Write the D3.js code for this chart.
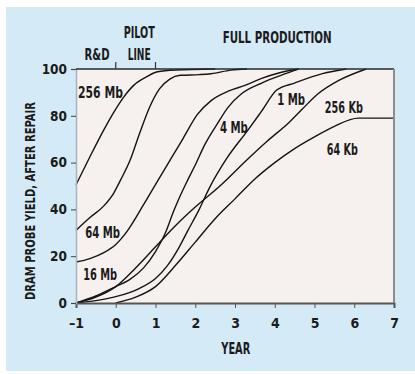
<!DOCTYPE html>
<html>
<head>
<meta charset="utf-8">
<script src="https://cdn.jsdelivr.net/npm/d3@7"></script>
<style>
  html, body { margin: 0; padding: 0; background: #fff; }
  svg text {
    font-family: "DejaVu Sans Condensed", "DejaVu Sans", sans-serif;
    font-stretch: condensed;
    font-weight: bold;
    fill: #1b1b1b;
  }
</style>
</head>
<body>
<div id="chart"></div>
<script>
// values: [year, probe yield %]
const years = [-1, 0, 1, 2, 3, 4, 5, 6, 7];
const yieldTicks = [0, 20, 40, 60, 80, 100];

const mb256 = [[-1, 50.5], [-0.65, 62.5], [-0.3, 74], [-0.05, 81.5], [0.2, 88], [0.45, 93], [0.78, 96.7], [1.05, 98.8], [1.5, 99.6], [2.5, 100]];
const mb64 = [[-1, 31], [-0.65, 36.5], [-0.3, 41.5], [-0.05, 47], [0.12, 52.5], [0.36, 61], [0.61, 73], [0.86, 84], [1.1, 91.5], [1.36, 95.7], [1.62, 97.3], [2.1, 97.6], [2.4, 98], [2.9, 99.5], [3.3, 100]];
const mb16 = [[-1, 17.5], [-0.65, 19], [-0.3, 21.5], [0, 25], [0.28, 30.5], [0.7, 42], [1.1, 53.5], [1.4, 62], [1.7, 70.5], [2.05, 80.5], [2.4, 86.5], [2.83, 90.5], [3.25, 93], [3.67, 96], [4.1, 98.3], [4.6, 100]];
const mb4 = [[-1, 0], [-0.5, 3], [0, 7], [0.35, 10], [0.7, 15], [1.0, 22], [1.25, 30], [1.45, 39], [1.6, 45], [1.78, 51.5], [2.0, 59], [2.25, 68], [2.57, 77], [2.82, 83.5], [3.17, 89.5], [3.67, 94], [4.17, 97.4], [4.6, 100]];
const mb1 = [[-1, 0], [-0.5, 1], [0, 2.7], [0.6, 6.3], [1.0, 10.5], [1.3, 16], [1.6, 24], [1.8, 30.5], [2.1, 40], [2.35, 49], [2.8, 62], [3.33, 74], [3.67, 82], [4.05, 91], [4.5, 94], [5.2, 98], [5.8, 100]];
const kb256 = [[-1, 0], [-0.5, 2.5], [0, 7], [0.5, 15], [1, 24], [1.5, 33], [2, 41], [2.62, 50], [3.29, 61], [3.8, 69], [4.38, 77.5], [4.7, 83], [5.06, 89], [5.6, 95], [6.3, 100]];
const kb64 = [[0, 0], [0.5, 2.5], [1, 7], [1.5, 16], [2, 26], [2.5, 36], [3, 44.5], [3.5, 53], [4, 60], [4.5, 66], [5, 71], [5.5, 75.5], [6.1, 79], [7, 79]];

const seriesNames = ["256 Mb", "64 Mb", "16 Mb", "4 Mb", "1 Mb", "256 Kb", "64 Kb"];
const seriesValues = [mb256, mb64, mb16, mb4, mb1, kb256, kb64];
// where each curve label sits, in data units (left edge / baseline), and its printed width
const labelSpots = [[-0.95, 87.6], [-0.77, 27.8], [-0.82, 9.8], [2.62, 72.6], [4.06, 84.6], [5.26, 81.2], [5.31, 63.2]];
const labelWidths = [45, 35, 34, 28, 28, 38, 31];

const phaseBreaks = [0, 1];

// set the dimensions and margins of the graph
const W = 415, H = 374;
const margin = { top: 69, right: 21, bottom: 71, left: 76 },
  width = W - margin.left - margin.right,
  height = H - margin.top - margin.bottom;

const svg = d3.select("#chart")
  .append("svg")
  .attr("width", W)
  .attr("height", H);

// light blue card
svg.append("rect")
  .attr("x", 6).attr("y", 7)
  .attr("width", W - 6).attr("height", 364)
  .attr("fill", "#d5eaf7");

const g = svg.append("g")
  .attr("transform", `translate(${margin.left}, ${margin.top})`);

const x = d3.scaleLinear().domain([-1, 7]).range([0, width]);
const y = d3.scaleLinear().domain([0, 100]).range([height, 0]);

g.append("rect")
  .attr("width", width).attr("height", height)
  .attr("fill", "#f6f1ee");

// curves
const line = d3.line()
  .x(d => x(d[0]))
  .y(d => y(d[1]))
  .curve(d3.curveMonotoneX);

g.selectAll(".curve")
  .data(seriesValues)
  .join("path")
  .attr("class", "curve")
  .attr("d", line)
  .attr("fill", "none")
  .attr("stroke", "#141414")
  .attr("stroke-width", 1.4);

// curve labels
g.selectAll(".lab")
  .data(seriesNames)
  .join("text")
  .attr("class", "lab")
  .attr("x", (d, i) => x(labelSpots[i][0]))
  .attr("y", (d, i) => y(labelSpots[i][1]))
  .attr("textLength", (d, i) => labelWidths[i])
  .attr("lengthAdjust", "spacingAndGlyphs")
  .style("font-size", "15px")
  .text(d => d);

// X axis
const xAxis = g.append("g")
  .attr("transform", `translate(0, ${height})`)
  .call(d3.axisBottom(x)
    .tickValues(years)
    .tickSize(5)
    .tickPadding(10)
    .tickFormat(d => d < 0 ? "\u2013" + Math.abs(d) : d));
xAxis.select(".domain").attr("stroke", "#555").attr("stroke-width", 2);
xAxis.selectAll(".tick line").attr("stroke", "#555");
xAxis.selectAll("text").style("font-size", "14px");

// Y axis
const yAxis = g.append("g")
  .call(d3.axisLeft(y)
    .tickValues(yieldTicks)
    .tickSize(5)
    .tickPadding(4));
yAxis.select(".domain").attr("stroke", "#a9b4bb").attr("stroke-width", 1.5);
yAxis.selectAll(".tick line").attr("stroke", "#444");
yAxis.selectAll("text").style("font-size", "13.5px");

// frame: top and right edges
g.append("line")
  .attr("x1", 0).attr("x2", width)
  .attr("y1", 0).attr("y2", 0)
  .attr("stroke", "#2a2a2a").attr("stroke-width", 1.6);
g.append("line")
  .attr("x1", width).attr("x2", width)
  .attr("y1", 0).attr("y2", height)
  .attr("stroke", "#8c8c8c").attr("stroke-width", 2);

// phase markers above the plot
g.selectAll(".phase")
  .data(phaseBreaks)
  .join("line")
  .attr("class", "phase")
  .attr("x1", d => x(d)).attr("x2", d => x(d))
  .attr("y1", -7).attr("y2", 0)
  .attr("stroke", "#333").attr("stroke-width", 1.2);

function topLabel(txt, cx, by, len, size) {
  g.append("text")
    .attr("x", x(cx)).attr("y", by)
    .attr("text-anchor", "middle")
    .attr("textLength", len)
    .attr("lengthAdjust", "spacingAndGlyphs")
    .style("font-size", size + "px")
    .text(txt);
}
topLabel("R&D", -0.47, -9, 25, 15);
topLabel("PILOT", 0.59, -31, 31, 15);
topLabel("LINE", 0.59, -9, 23, 15);
topLabel("FULL PRODUCTION", 4.06, -26, 109, 15);

// axis titles
g.append("text")
  .attr("x", x(3.02)).attr("y", height + 51)
  .attr("text-anchor", "middle")
  .attr("textLength", 29)
  .attr("lengthAdjust", "spacingAndGlyphs")
  .style("font-size", "15px")
  .text("YEAR");

svg.append("text")
  .attr("transform", "translate(35, 201) rotate(-90)")
  .attr("text-anchor", "middle")
  .attr("textLength", 198)
  .attr("lengthAdjust", "spacingAndGlyphs")
  .style("font-size", "14px")
  .text("DRAM PROBE YIELD, AFTER REPAIR");
</script>
</body>
</html>
